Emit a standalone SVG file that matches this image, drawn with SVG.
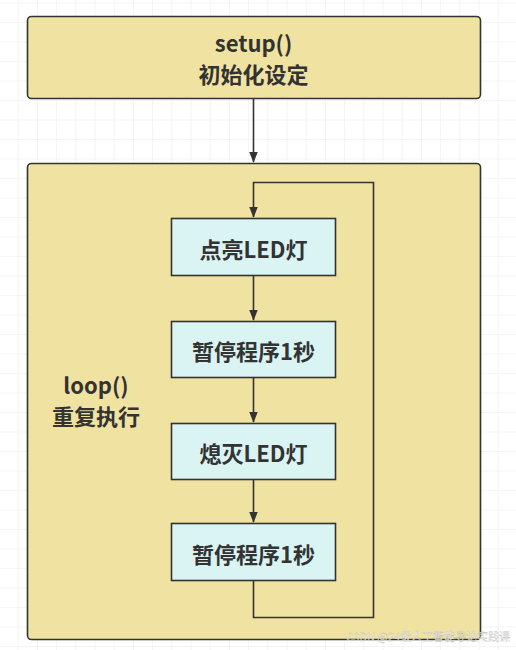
<svg xmlns="http://www.w3.org/2000/svg" width="516" height="650" viewBox="0 0 516 650">
<defs>
<pattern id="grid" x="-0.5" y="3.5" width="19.2" height="19.5" patternUnits="userSpaceOnUse">
<path d="M19.2 0 V19.5 M0 19.5 H19.2" fill="none" stroke="#ececec" stroke-width="1.2"/>
</pattern>
<marker id="arr" markerWidth="11" markerHeight="14" refX="13" refY="5.5" orient="auto" markerUnits="userSpaceOnUse" viewBox="0 0 14 11">
<path d="M0 0 L14 5.5 L0 11 Z" fill="#333"/>
</marker>
</defs>
<style>
.outer{fill:#f0e2a0;stroke:#333;stroke-width:1.6}
.inner{fill:#daf4f4;stroke:#333;stroke-width:1.6}
.t{font-family:"Noto Sans CJK SC","Noto Sans",sans-serif;font-weight:bold;font-size:22px;fill:#333;text-anchor:middle}
.c{fill:none;stroke:#333;stroke-width:1.6}
</style>
<rect width="516" height="650" fill="#fff"/>
<rect width="516" height="650" fill="url(#grid)"/>
<g id="setup">
<rect class="outer" x="27.5" y="16.5" width="453" height="82" rx="4"/>
<text class="t" x="253.5" y="52">setup()</text>
<text class="t" x="253.5" y="82.5">初始化设定</text>
</g>
<g id="loop">
<rect class="outer" x="27.5" y="163.5" width="453" height="476" rx="4"/>
<text class="t" x="96" y="394">loop()</text>
<text class="t" x="96" y="425">重复执行</text>
</g>
<g id="n1">
<rect class="inner" x="171.5" y="218.5" width="164" height="57"/>
<text class="t" x="253.5" y="257.5">点亮LED灯</text>
</g>
<g id="n2">
<rect class="inner" x="171.5" y="321.5" width="164" height="56"/>
<text class="t" x="253.5" y="360">暂停程序1秒</text>
</g>
<g id="n3">
<rect class="inner" x="171.5" y="423.5" width="164" height="56"/>
<text class="t" x="253.5" y="462">熄灭LED灯</text>
</g>
<g id="n4">
<rect class="inner" x="171.5" y="523.5" width="164" height="57"/>
<text class="t" x="253.5" y="562.5">暂停程序1秒</text>
</g>
<g id="connectors">
<path class="c" d="M253.5 99 V162" marker-end="url(#arr)"/>
<path class="c" d="M253.5 276 V320" marker-end="url(#arr)"/>
<path class="c" d="M253.5 378 V422" marker-end="url(#arr)"/>
<path class="c" d="M253.5 480 V522" marker-end="url(#arr)"/>
<path class="c" d="M253.5 581 V617.5 H373.5 V182.5 H253.5 V217" marker-end="url(#arr)"/>
</g>
<text x="510" y="641" font-family="'Noto Sans CJK SC',sans-serif" font-size="11" fill="#ffffff" fill-opacity="0.75" stroke="#bbb" stroke-width="0.3" text-anchor="end">CSDN @24级人工智能导论实践课</text>
</svg>
